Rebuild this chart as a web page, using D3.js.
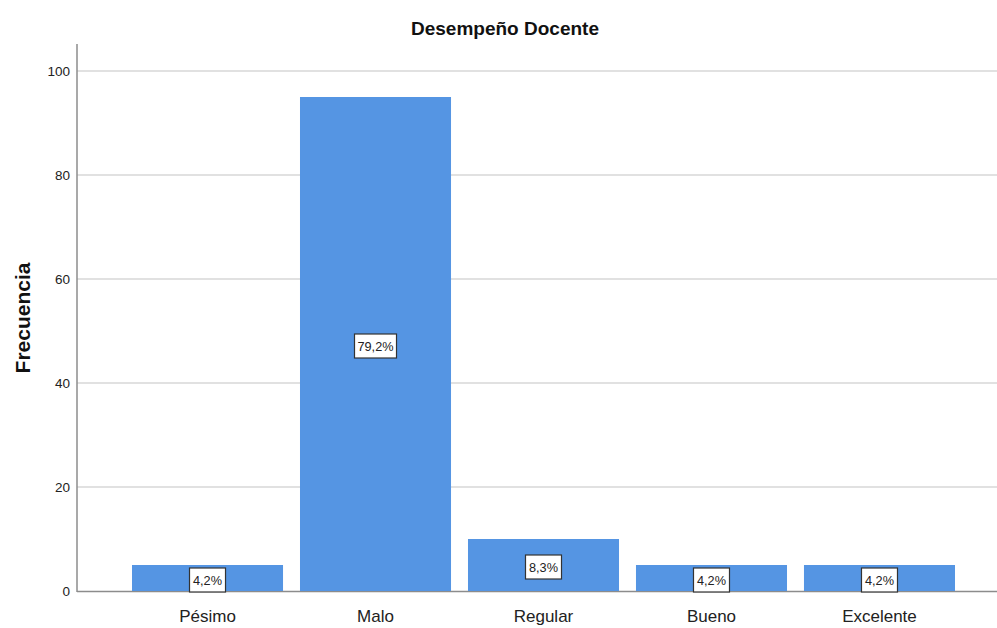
<!DOCTYPE html>
<html lang="es">
<head>
    <meta charset="UTF-8">
    <title>Desempeño Docente</title>
    <script src="https://cdn.jsdelivr.net/npm/d3@7"></script>
    <style>
        body { margin: 0; background: #fff; }
        text { font-family: "Liberation Sans", Arial, sans-serif; }
    </style>
</head>
<body>
<div id="chart"></div>
<script>
    // datos
    const categorias = ["Pésimo", "Malo", "Regular", "Bueno", "Excelente"];
    const frecuencias = [5, 95, 10, 5, 5];
    const porcentajes = ["4,2%", "79,2%", "8,3%", "4,2%", "4,2%"];
    const ticksY = [0, 20, 40, 60, 80, 100];

    const W = 997, H = 628;
    const svg = d3.select("#chart").append("svg")
        .attr("width", W)
        .attr("height", H);

    const x = d3.scaleBand()
        .domain(categorias)
        .range([123.5, 963.5])
        .paddingInner(0.101)
        .paddingOuter(0.0506);

    const y = d3.scaleLinear()
        .domain([0, 100])
        .range([591, 71]);

    // grid
    svg.append("g")
        .selectAll("line")
        .data(ticksY.filter(d => d > 0))
        .enter().append("line")
        .attr("x1", 77)
        .attr("x2", W)
        .attr("y1", d => y(d))
        .attr("y2", d => y(d))
        .attr("stroke", "#c4c4c4")
        .attr("stroke-width", 1.2);

    // eje y
    const ejeY = svg.append("g")
        .attr("transform", "translate(77,0)")
        .call(d3.axisLeft(y).tickValues(ticksY).tickSize(0).tickPadding(7));
    ejeY.select(".domain").remove();
    ejeY.selectAll("text")
        .attr("font-size", 13.5)
        .attr("fill", "#222")
        .style("font-family", "'Liberation Sans', Arial, sans-serif");

    svg.append("line")
        .attr("x1", 77).attr("x2", 77)
        .attr("y1", 44).attr("y2", 592)
        .attr("stroke", "#8c8c8c")
        .attr("stroke-width", 1.5);

    svg.append("line")
        .attr("x1", 77).attr("x2", W)
        .attr("y1", 591.5).attr("y2", 591.5)
        .attr("stroke", "#8c8c8c")
        .attr("stroke-width", 1.5);

    // barras
    svg.append("g")
        .selectAll("rect")
        .data(categorias)
        .enter().append("rect")
        .attr("x", d => x(d))
        .attr("width", x.bandwidth())
        .attr("y", (d, i) => y(frecuencias[i]))
        .attr("height", (d, i) => y(0) - y(frecuencias[i]))
        .attr("fill", "#5595e3");

    // etiquetas de porcentaje
    const etiquetas = svg.append("g")
        .selectAll("g")
        .data(categorias)
        .enter().append("g")
        .attr("transform", (d, i) => "translate(" + (x(d) + x.bandwidth() / 2) + "," +
            ((y(frecuencias[i]) + y(0)) / 2 + 2) + ")");

    etiquetas.append("rect")
        .attr("x", d => d === "Malo" ? -21 : -18)
        .attr("y", -12)
        .attr("width", d => d === "Malo" ? 42 : 36)
        .attr("height", 24)
        .attr("fill", "#fff")
        .attr("stroke", "#333")
        .attr("stroke-width", 1.2);

    etiquetas.append("text")
        .attr("text-anchor", "middle")
        .attr("dy", "0.36em")
        .attr("font-size", 13)
        .attr("fill", "#222")
        .attr("textLength", d => d === "Malo" ? 36 : 29)
        .attr("lengthAdjust", "spacingAndGlyphs")
        .text((d, i) => porcentajes[i]);

    // eje x
    svg.append("g")
        .selectAll("text")
        .data(categorias)
        .enter().append("text")
        .attr("x", d => x(d) + x.bandwidth() / 2)
        .attr("y", 622)
        .attr("text-anchor", "middle")
        .attr("font-size", 17)
        .attr("fill", "#222")
        .text(d => d);

    // titulos
    svg.append("text")
        .attr("x", 505)
        .attr("y", 35)
        .attr("text-anchor", "middle")
        .attr("font-size", 19)
        .attr("font-weight", "bold")
        .attr("fill", "#111")
        .text("Desempeño Docente");

    svg.append("text")
        .attr("transform", "translate(30,318) rotate(-90)")
        .attr("text-anchor", "middle")
        .attr("font-size", 21)
        .attr("font-weight", "bold")
        .attr("fill", "#111")
        .text("Frecuencia");
</script>
</body>
</html>
